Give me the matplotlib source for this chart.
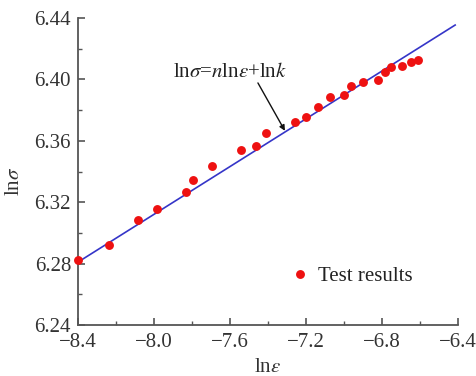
import matplotlib
matplotlib.use("Agg")
import matplotlib.pyplot as plt
import numpy as np

plt.rcParams['font.family'] = ['Liberation Serif', 'DejaVu Serif']
plt.rcParams['mathtext.fontset'] = 'stix'

# Test results (ln strain rate vs ln stress)
ln_eps = [-8.400, -8.235, -8.086, -7.986, -7.830, -7.797, -7.693, -7.544, -7.463,
          -7.412, -7.258, -7.200, -7.138, -7.074, -7.000, -6.963, -6.898, -6.819,
          -6.784, -6.751, -6.697, -6.649, -6.612]
ln_sig = [6.2823, 6.2921, 6.3086, 6.3158, 6.3264, 6.3343, 6.3434, 6.3540, 6.3566,
          6.3649, 6.3720, 6.3753, 6.3822, 6.3885, 6.3900, 6.3959, 6.3983, 6.3996,
          6.4050, 6.4079, 6.4085, 6.4111, 6.4126]

# Fitted line lnσ = n lnε + ln k
n_fit = 0.0778
lnk_fit = 6.9345
fit_x = [-8.40, -6.415]

x_ticks = [-8.4, -8.0, -7.6, -7.2, -6.8, -6.4]
y_ticks = [6.24, 6.28, 6.32, 6.36, 6.40, 6.44]

W, H = 476, 376
fig = plt.figure(figsize=(W / 100, H / 100), dpi=100)
ax = fig.add_axes([78 / W, 1 - 325 / H, 380 / W, 307 / H])

fx = np.array(fit_x)
ax.plot(fx, n_fit * fx + lnk_fit, color='#3535c8', lw=1.2, zorder=2)
ax.plot(ln_eps, ln_sig, 'o', color='#ee1111', ms=6.4, mec='none', zorder=3,
        label='Test results', clip_on=False)

ax.set_xlim(-8.4, -6.4)
ax.set_ylim(6.24, 6.44)
ax.set_xticks(x_ticks)
ax.set_yticks(y_ticks)
ax.set_xticks([-8.2, -7.8, -7.4, -7.0, -6.6], minor=True)
ax.set_yticks([6.26, 6.30, 6.34, 6.38, 6.42], minor=True)
ax.set_xticklabels(['\u22128.4', '\u22128.0', '\u22127.6', '\u22127.2', '\u22126.8', '\u22126.4'])
ax.set_yticklabels(['6.24', '6.28', '6.32', '6.36', '6.40', '6.44'])

for s in ['top', 'right']:
    ax.spines[s].set_visible(False)
for s in ['left', 'bottom']:
    ax.spines[s].set_color('#555555')
    ax.spines[s].set_linewidth(1.3)

ax.tick_params(which='major', direction='in', length=5, width=1.2, color='#555555',
               labelsize=15, labelcolor='#333333')
ax.tick_params(axis='x', which='major', pad=6)
ax.tick_params(axis='y', which='major', pad=5)
ax.tick_params(which='minor', direction='in', length=3, width=1.0, color='#555555')

ax.set_xlabel(r'ln$\varepsilon$', fontsize=15, color='#333333')
ax.set_ylabel(r'ln$\sigma$', fontsize=15, color='#333333')
ax.xaxis.set_label_coords(0.5, -0.108)
ax.yaxis.set_label_coords(-0.142, 0.469)

# equation annotation
ax.text(-7.9, 6.4014, r'ln$\sigma$=$n$ln$\varepsilon$+ln$k$', fontsize=15,
        color='#222222', va='baseline', ha='left')
ax.annotate('', xy=(-7.311, 6.3665), xytext=(-7.453, 6.3977),
            arrowprops=dict(arrowstyle='-|>', color='#111111', lw=1.0,
                            mutation_scale=8, shrinkA=0, shrinkB=0))

leg = ax.legend(loc='center left', bbox_to_anchor=(290.0 / W, 1 - 276 / H),
                bbox_transform=fig.transFigure, frameon=False, fontsize=15,
                handlelength=1.0, handletextpad=0.35, borderpad=0, borderaxespad=0)
for t in leg.get_texts():
    t.set_color('#222222')

fig.savefig('out.png', dpi=100)
